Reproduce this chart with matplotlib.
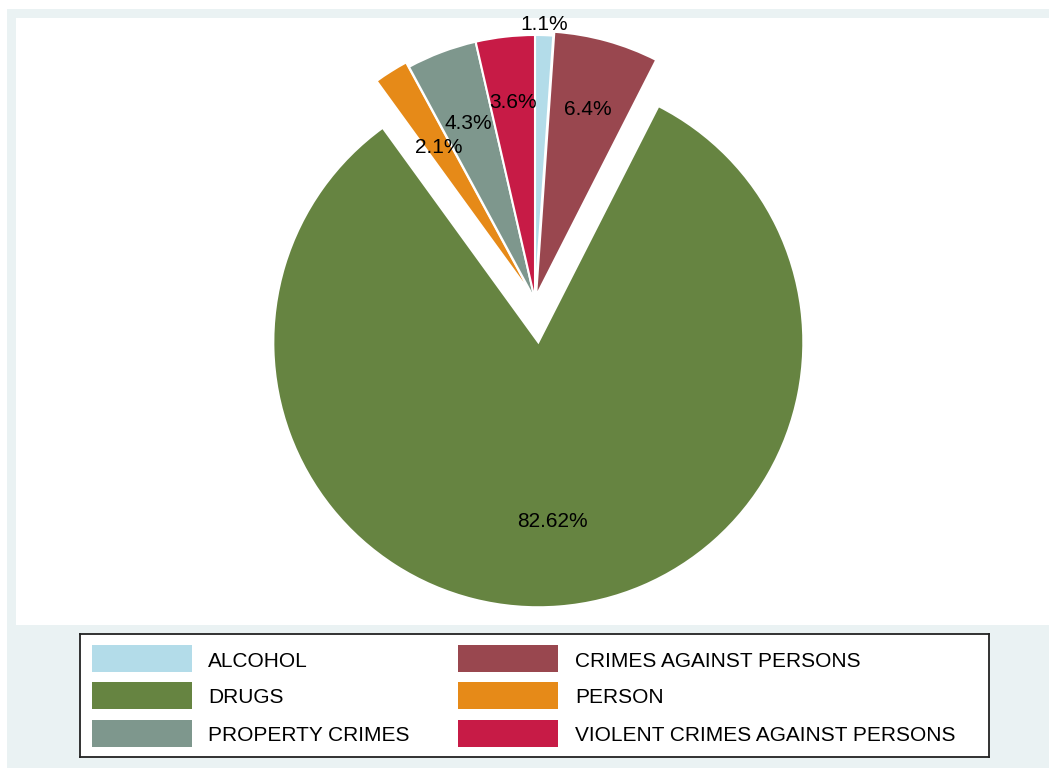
import numpy as np
import matplotlib.pyplot as plt
from matplotlib.patches import Rectangle

plt.rcParams['font.family'] = ['Liberation Sans', 'DejaVu Sans']

categories = ["ALCOHOL", "CRIMES AGAINST PERSONS", "DRUGS", "PERSON",
              "PROPERTY CRIMES", "VIOLENT CRIMES AGAINST PERSONS"]
values = [1.1, 6.4, 82.62, 2.1, 4.3, 3.6]
labels = ["1.1%", "6.4%", "82.62%", "2.1%", "4.3%", "3.6%"]

colors = ["#B3DCE9", "#99474F", "#668441", "#E68A18", "#7E978D", "#C71B46"]
explode = [0.0, 0.015, 0.16, 0.02, 0.0, 0.0]
label_dist = [1.04, 0.73, 0.68, 0.66, 0.71, 0.75]

W, H = 1049, 771
fig = plt.figure(figsize=(W / 100, H / 100), dpi=100)
fig.patch.set_facecolor("white")

def px_rect(x0, y0, x1, y1, **kw):
    # rectangle given in pixels from the top-left corner
    r = Rectangle((x0 / W, 1 - y1 / H), (x1 - x0) / W, (y1 - y0) / H,
                  transform=fig.transFigure, **kw)
    fig.patches.append(r)

px_rect(7, 9, 1049, 768, facecolor="#EAF2F3", edgecolor="none", zorder=-2)
px_rect(16, 18, 1049, 625, facecolor="white", edgecolor="none", zorder=-1)

# pie axes: centre at (535, 300) px, radius 265 px
cx, cy, r, half = 535, 300, 265, 360
ax = fig.add_axes([(cx - half) / W, 1 - (cy + half) / H, 2 * half / W, 2 * half / H])

wedges, _ = ax.pie(values, colors=colors, explode=explode, startangle=90,
                   counterclock=False, radius=1.0,
                   wedgeprops=dict(edgecolor="white", linewidth=1.5))
ax.set_xlim(-half / r, half / r)
ax.set_ylim(-half / r, half / r)
ax.set_aspect("equal")
ax.axis("off")

for w, lab, d, e in zip(wedges, labels, label_dist, explode):
    mid = np.deg2rad((w.theta1 + w.theta2) / 2)
    x = (d + e) * np.cos(mid)
    y = (d + e) * np.sin(mid)
    ax.text(x, y, lab, ha="center", va="center", fontsize=15, color="black")

# legend box
lx0, ly0, lx1, ly1 = 80, 634, 989, 757
leg = fig.add_axes([lx0 / W, 1 - ly1 / H, (lx1 - lx0) / W, (ly1 - ly0) / H])
leg.set_xlim(lx0, lx1)
leg.set_ylim(ly1, ly0)
leg.set_xticks([])
leg.set_yticks([])
for s in leg.spines.values():
    s.set_linewidth(1.3)
    s.set_color("#222222")

sw_x = [92, 458]
txt_x = [208, 575]
row_y = [659, 695.5, 733.5]
for i, (cat, col) in enumerate(zip(categories, colors)):
    c, rr = i % 2, i // 2
    leg.add_patch(Rectangle((sw_x[c], row_y[rr] - 13.5), 100, 27,
                            facecolor=col, edgecolor="none"))
    leg.text(txt_x[c], row_y[rr] + 2.5, cat, ha="left", va="center", fontsize=15)

fig.savefig("out.png", dpi=100)
